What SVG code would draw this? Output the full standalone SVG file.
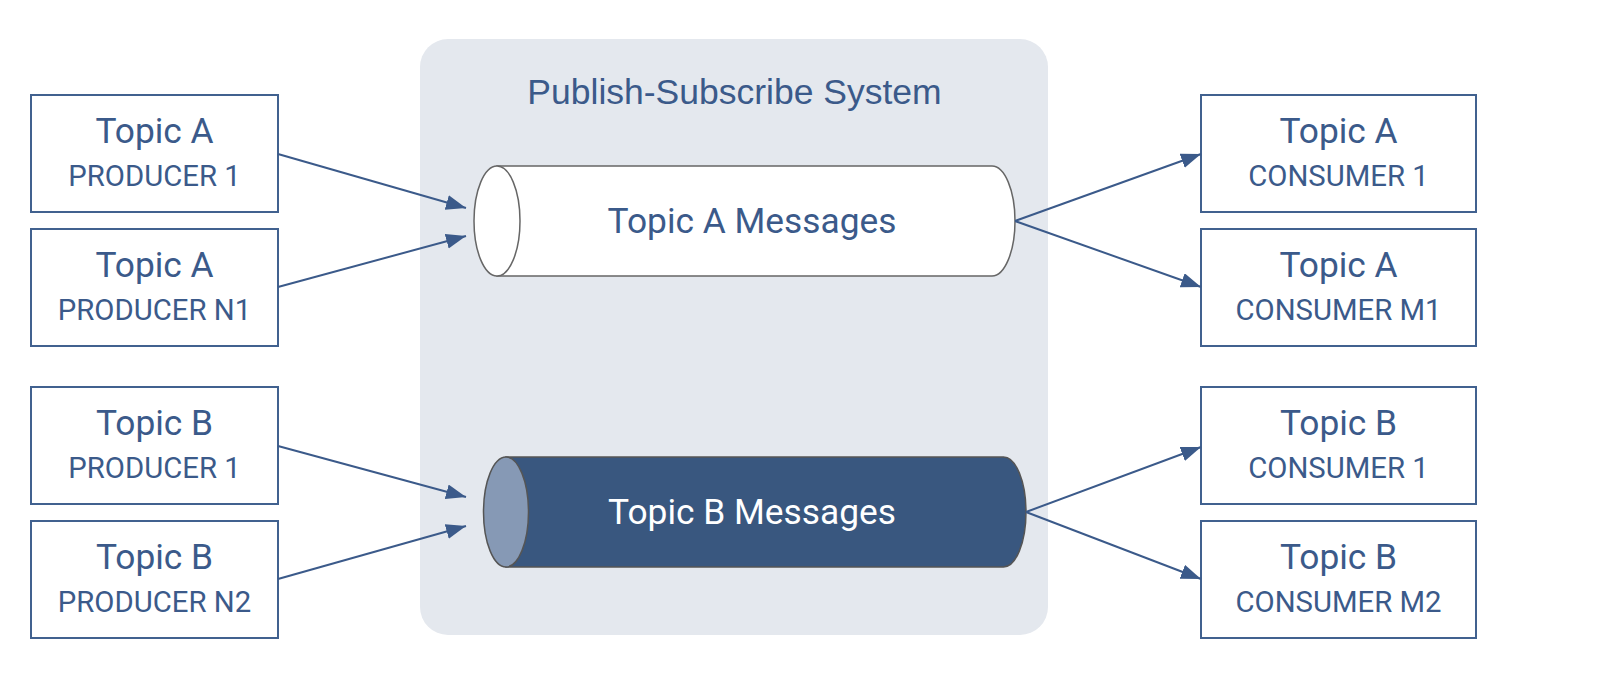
<svg xmlns="http://www.w3.org/2000/svg" width="1610" height="692" viewBox="0 0 1610 692">
<style>
.box{fill:#ffffff;stroke:#41618f;stroke-width:2}
.t1{font-family:Roboto,"Liberation Sans",sans-serif;font-size:35.3px;fill:#3b5a8a;text-anchor:middle}
.t2{font-family:Roboto,"Liberation Sans",sans-serif;font-size:29.3px;fill:#3b5a8a;text-anchor:middle}
.conn{stroke:#3b5a8a;stroke-width:2;fill:none;marker-end:url(#ah)}
.title{font-family:"Liberation Sans",Arial,sans-serif;font-size:35.5px;fill:#3b5a8a;text-anchor:middle}
</style>
<defs>
<marker id="ah" markerUnits="userSpaceOnUse" markerWidth="22" markerHeight="16" refX="20" refY="7.5" orient="auto">
<path d="M0,0 L20,7.5 L0,15 Z" fill="#3b5a8a"/>
</marker>
</defs>
<rect width="1610" height="692" fill="#ffffff"/>
<g id="pubsub-system">
<rect x="420" y="39" width="628" height="596" rx="28" ry="28" fill="#e4e8ee"/>
<text class="title" x="734.5" y="104">Publish-Subscribe System</text>
</g>
<g id="topic-a-messages">
<path d="M497,166 H992 A23,55 0 0 1 992,276 H497 Z" fill="#ffffff" stroke="#666666" stroke-width="1.5"/>
<ellipse cx="497" cy="221" rx="23" ry="55" fill="#ffffff" stroke="#666666" stroke-width="1.5"/>
<text class="t1" x="752" y="233">Topic A Messages</text>
</g>
<g id="topic-b-messages">
<path d="M506,457 H1003.5 A22.5,55 0 0 1 1003.5,567 H506 Z" fill="#39577f" stroke="#555555" stroke-width="1.5"/>
<ellipse cx="506" cy="512" rx="22.5" ry="55" fill="#8699b5" stroke="#555555" stroke-width="1.5"/>
<text class="t1" x="752" y="524" style="fill:#ffffff">Topic B Messages</text>
</g>
<g id="prod-a1">
<rect class="box" x="31" y="95" width="247" height="117"/>
<text class="t1" x="154.5" y="143">Topic A</text>
<text class="t2" x="154.5" y="186">PRODUCER 1</text>
</g>
<g id="prod-a2">
<rect class="box" x="31" y="229" width="247" height="117"/>
<text class="t1" x="154.5" y="277">Topic A</text>
<text class="t2" x="154.5" y="320">PRODUCER N1</text>
</g>
<g id="prod-b1">
<rect class="box" x="31" y="387" width="247" height="117"/>
<text class="t1" x="154.5" y="435">Topic B</text>
<text class="t2" x="154.5" y="478">PRODUCER 1</text>
</g>
<g id="prod-b2">
<rect class="box" x="31" y="521" width="247" height="117"/>
<text class="t1" x="154.5" y="569">Topic B</text>
<text class="t2" x="154.5" y="612">PRODUCER N2</text>
</g>
<g id="cons-a1">
<rect class="box" x="1201" y="95" width="275" height="117"/>
<text class="t1" x="1338.5" y="143">Topic A</text>
<text class="t2" x="1338.5" y="186">CONSUMER 1</text>
</g>
<g id="cons-a2">
<rect class="box" x="1201" y="229" width="275" height="117"/>
<text class="t1" x="1338.5" y="277">Topic A</text>
<text class="t2" x="1338.5" y="320">CONSUMER M1</text>
</g>
<g id="cons-b1">
<rect class="box" x="1201" y="387" width="275" height="117"/>
<text class="t1" x="1338.5" y="435">Topic B</text>
<text class="t2" x="1338.5" y="478">CONSUMER 1</text>
</g>
<g id="cons-b2">
<rect class="box" x="1201" y="521" width="275" height="117"/>
<text class="t1" x="1338.5" y="569">Topic B</text>
<text class="t2" x="1338.5" y="612">CONSUMER M2</text>
</g>
<g id="connectors">
<line class="conn" x1="278" y1="154" x2="466" y2="208"/>
<line class="conn" x1="278" y1="287" x2="466" y2="236"/>
<line class="conn" x1="278" y1="446" x2="466" y2="497"/>
<line class="conn" x1="278" y1="579" x2="466" y2="526"/>
<line class="conn" x1="1015" y1="221" x2="1201" y2="154"/>
<line class="conn" x1="1015" y1="221" x2="1201" y2="287"/>
<line class="conn" x1="1026" y1="512" x2="1201" y2="447"/>
<line class="conn" x1="1026" y1="512" x2="1201" y2="579"/>
</g>
</svg>
